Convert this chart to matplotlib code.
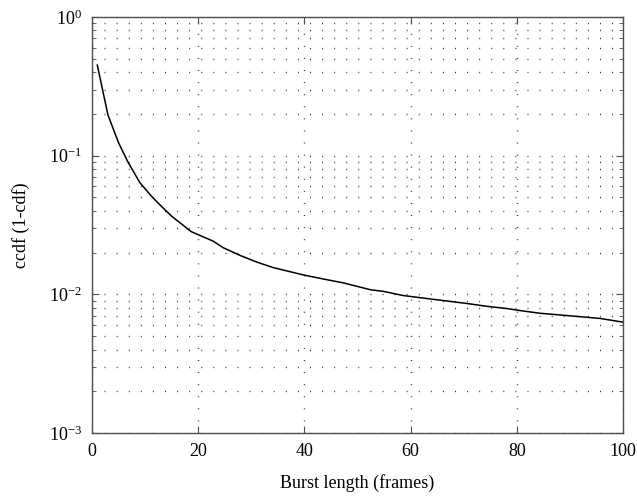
import matplotlib
matplotlib.use("Agg")
import matplotlib.pyplot as plt
import numpy as np

plt.rcParams['font.family'] = ['Liberation Serif', 'DejaVu Serif']
plt.rcParams['mathtext.fontset'] = 'stix'
plt.rcParams['lines.scale_dashes'] = False

# burst length (frames) vs ccdf
burst_len = [1, 3, 5, 6.7, 9, 11.2, 13.1, 15, 18.7, 22.8, 24.7, 28, 31, 34.1,
             39.8, 44, 47.3, 52.4, 54.9, 58.6, 64.3, 70.5, 74.3, 78.1, 81,
             84.4, 90, 95.7, 100]
ccdf = [0.45, 0.197, 0.124, 0.091, 0.064, 0.051, 0.043, 0.0366, 0.0283,
        0.0242, 0.0217, 0.019, 0.0171, 0.0156, 0.0138, 0.0128, 0.0121,
        0.0108, 0.0105, 0.0098, 0.0092, 0.0086, 0.0082, 0.0079, 0.0076,
        0.0073, 0.0070, 0.0067, 0.0063]

xticks = [0, 20, 40, 60, 80, 100]

fig = plt.figure(figsize=(6.37, 4.97), dpi=100)
ax = fig.add_axes([0.1444, 0.1288, 0.8336, 0.837])

ax.plot(burst_len, ccdf, color='black', lw=1.1)

ax.set_yscale('log')
ax.set_xlim(0, 100)
ax.set_ylim(1e-3, 1e0)
ax.set_xticks(xticks)

dots = dict(color='0.2', lw=1.0, linestyle=(0, (0.7, 8)))
ax.grid(True, which='major', axis='both', **dots)
ax.grid(True, which='minor', axis='y', **dots)

ax.tick_params(which='both', direction='in', top=True, right=True,
               labelsize=13, color='0.3', pad=7)
ax.tick_params(which='major', length=5)
ax.tick_params(which='minor', length=3)
for s in ax.spines.values():
    s.set_color('0.3')
    s.set_linewidth(1.0)

ax.set_xlabel('Burst length (frames)', fontsize=13, labelpad=10)
ax.set_ylabel('ccdf (1-cdf)', fontsize=13, labelpad=14)

fig.savefig('out.png', dpi=100)
